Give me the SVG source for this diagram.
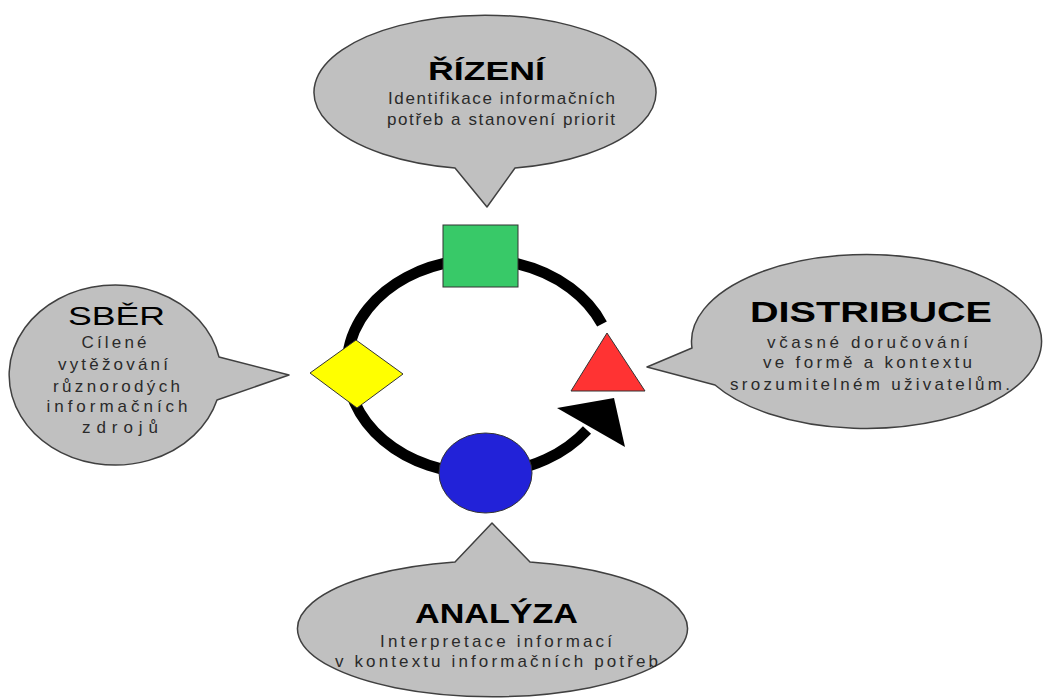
<svg xmlns="http://www.w3.org/2000/svg" width="1043" height="700" viewBox="0 0 1043 700">
<style>
.bubble{fill:#c0c0c0;stroke:#404040;stroke-width:1.5;stroke-linejoin:round}
.title{font-family:"Liberation Sans",Arial,sans-serif;font-weight:bold;fill:#000;text-anchor:middle}
.sub{font-family:"Liberation Sans",Arial,sans-serif;font-size:17px;fill:#2a2a2a;text-anchor:middle}
.ring{fill:none;stroke:#000;stroke-width:11}
.shape{stroke:#333;stroke-width:1}
</style>
<rect width="1043" height="700" fill="#fff"/>
<g id="connectors">
<path class="ring" d="M 602,324 A 133 107 0 1 0 587,430"/>
<polygon points="557,408 614,398 625,447" fill="#000"/>
</g>
<g id="node-rizeni">
<path class="bubble" d="M 455,168 L 487,207 L 515,168 A 171 77 0 1 0 455,168 Z"/>
<text class="title" x="486.5" y="80" font-size="25" textLength="117" lengthAdjust="spacingAndGlyphs">ŘÍZENÍ</text>
<text class="sub" x="501.5" y="104" textLength="227" lengthAdjust="spacing">Identifikace informačních</text>
<text class="sub" x="501" y="125" textLength="228" lengthAdjust="spacing">potřeb a stanovení priorit</text>
</g>
<g id="node-sber">
<path class="bubble" d="M 219,357 L 289,375 L 217,400 A 106 90 0 1 1 219,357 Z"/>
<text class="title" x="116.5" y="325" font-size="25" style="font-weight:normal" textLength="97" lengthAdjust="spacingAndGlyphs">SBĚR</text>
<text class="sub" x="114" y="348" textLength="65" lengthAdjust="spacing">Cílené</text>
<text class="sub" x="113" y="370" textLength="110" lengthAdjust="spacing">vytěžování</text>
<text class="sub" x="116.5" y="392" textLength="127" lengthAdjust="spacing">různorodých</text>
<text class="sub" x="117" y="412" textLength="141" lengthAdjust="spacing">informačních</text>
<text class="sub" x="120" y="433" textLength="76" lengthAdjust="spacing">zdrojů</text>
</g>
<g id="node-distribuce">
<path class="bubble" d="M 692,348 L 647,367 L 715,385 A 175 87 0 1 0 692,348 Z"/>
<text class="title" x="871" y="322" font-size="30" textLength="242" lengthAdjust="spacingAndGlyphs">DISTRIBUCE</text>
<text class="sub" x="867.5" y="348" textLength="201" lengthAdjust="spacing">včasné doručování</text>
<text class="sub" x="867.5" y="368" textLength="209" lengthAdjust="spacing">ve formě a kontextu</text>
<text class="sub" x="870" y="390" textLength="280" lengthAdjust="spacing">srozumitelném uživatelům.</text>
</g>
<g id="node-analyza">
<path class="bubble" d="M 530,562 L 492,523 L 455,562 A 195 68 0 1 0 530,562 Z"/>
<text class="title" x="496.5" y="623" font-size="28" textLength="163" lengthAdjust="spacingAndGlyphs">ANALÝZA</text>
<text class="sub" x="496" y="647" textLength="232" lengthAdjust="spacing">Interpretace informací</text>
<text class="sub" x="496.5" y="667" textLength="323" lengthAdjust="spacing">v kontextu informačních potřeb</text>
</g>
<g id="node-square">
<rect class="shape" x="443" y="225" width="75" height="62" fill="#38c968"/>
</g>
<g id="node-diamond">
<polygon class="shape" points="310,373 356,340 403,374 357,408" fill="#ffff00"/>
</g>
<g id="node-triangle">
<polygon class="shape" points="607,333 571,391 645,391" fill="#ff3333"/>
</g>
<g id="node-ellipse">
<ellipse class="shape" cx="485.5" cy="473" rx="46.5" ry="40" fill="#2222d8"/>
</g>
</svg>
